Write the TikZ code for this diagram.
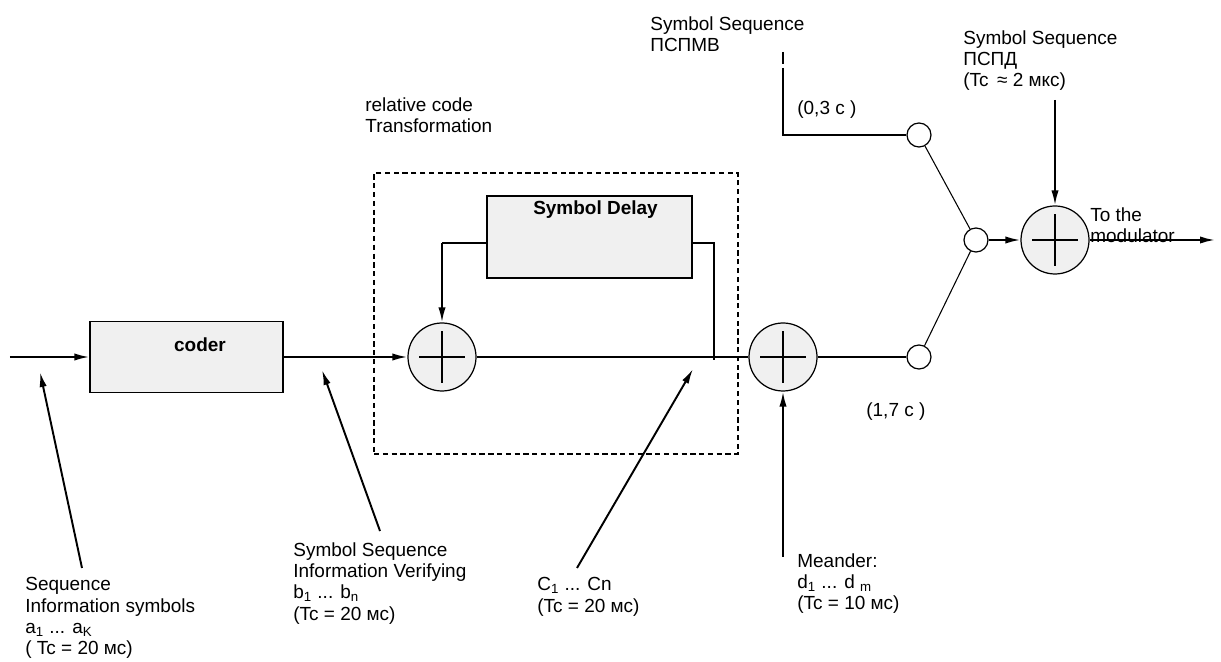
\documentclass[tikz,border=0pt]{standalone}
\usepackage{fontspec}
\setmainfont{Liberation Sans}
\usepackage{tikz}
\usetikzlibrary{arrows.meta,positioning,calc}

\begin{document}
\begin{tikzpicture}[
    block/.style={draw, fill=black!6, line width=0.7pt, inner sep=0pt},
    adder/.style={draw, circle, fill=black!6, minimum size=1.36cm, inner sep=0pt, line width=0.7pt,
        path picture={\draw[line width=0.6pt]
            ([xshift=-0.46cm]path picture bounding box.center) -- ([xshift=0.46cm]path picture bounding box.center)
            ([yshift=-0.52cm]path picture bounding box.center) -- ([yshift=0.52cm]path picture bounding box.center);}},
    contact/.style={draw, circle, fill=white, minimum size=0.48cm, inner sep=0pt, line width=0.7pt},
    note/.style={align=left, anchor=north west, inner sep=0pt},
    arrow/.style={-{Latex[length=3mm, width=1.45mm]}, line width=1.1pt},
    wire/.style={line width=0.6pt},
    every node/.style={font=\fontsize{10.8}{12.2}\selectfont}
]
\useasboundingbox (0,0) rectangle (24.42,13.22);

% Relative code transformation
\node[draw, dash pattern=on 3pt off 2pt, line width=0.9pt, minimum width=7.28cm, minimum height=5.62cm] (relbox) at (11.12, 6.95) {};
\node[note] (reltxt) at (7.30, 11.28) {relative code\\Transformation};

% Blocks
\node[block, minimum width=3.86cm, minimum height=1.42cm,
      label={[font=\fontsize{10.8}{12}\selectfont\bfseries, xshift=0.27cm, yshift=0.25cm]center:coder}] (coder) at (3.73, 6.08) {};
\node[block, minimum width=4.1cm, minimum height=1.64cm,
      label={[font=\fontsize{10.8}{12}\selectfont\bfseries, xshift=0.12cm, yshift=0.54cm]center:Symbol Delay}] (delay) at (11.79, 8.48) {};

% Adders and contacts
\node[adder] (ad1) at (8.84, 6.08) {};
\node[adder] (ad2) at (15.66, 6.08) {};
\node[adder] (ad3) at (21.10, 8.42) {};
\node[contact] (swlow) at (18.38, 6.08) {};
\node[contact] (swup) at (18.38, 10.52) {};
\node[contact] (swmid) at (19.52, 8.42) {};

% Free ends
\coordinate (in) at (0.20, 6.08);
\coordinate (out) at (24.30, 8.42);
\coordinate (fbk) at (8.84, 8.36);
\coordinate (tap) at (14.28, 6.02);
\coordinate (pspd) at (21.10, 11.22);
\coordinate (meander) at (15.66, 2.08);
\coordinate (pspmv0) at (15.66, 12.18);
\coordinate (pspmv1) at (15.66, 11.94);
\coordinate (pspmv2) at (15.66, 11.86);

% Signal path
\draw[arrow] (in) -- (coder);
\draw[arrow] (coder) -- (ad1);
\draw[wire] ([yshift=-0.12cm]delay.west) -- (fbk);
\draw[arrow] (fbk) -- (ad1);
\draw[wire] ([yshift=-0.12cm]delay.east) -| (tap);
\draw[wire] (ad1) -- (ad2);
\draw[wire] (ad2) -- (swlow);
\draw[wire] (pspmv0) -- (pspmv1);
\draw[wire] (pspmv2) |- (swup);
\draw[wire] (swup) -- (swmid);
\draw[wire] (swlow) -- (swmid);
\draw[arrow] (swmid) -- (ad3);
\draw[arrow] (pspd) -- (ad3);
\draw[arrow] (ad3) -- (out);
\draw[arrow] (meander) -- (ad2);

% Pointers to the lines
\coordinate (pa0) at (1.64, 1.86);   \coordinate (pa1) at (0.80, 5.78);
\coordinate (pb0) at (7.60, 2.60);   \coordinate (pb1) at (6.44, 5.82);
\coordinate (pc0) at (11.54, 1.86);  \coordinate (pc1) at (13.86, 5.84);
\draw[arrow] (pa0) -- (pa1);
\draw[arrow] (pb0) -- (pb1);
\draw[arrow] (pc0) -- (pc1);

% Labels
\node[note] (atxt) at (0.50, 1.68) {Sequence\\Information symbols\\a\textsubscript{1} ... a\textsubscript{K}\\( Tc = 20 мс)};
\node[note] (btxt) at (5.86, 2.38) {Symbol Sequence\\Information Verifying\\b\textsubscript{1} ... b\textsubscript{n}\\(Tc = 20 мс)};
\node[note] (ctxt) at (10.74, 1.68) {C\textsubscript{1} ... Cn\\(Tc = 20 мс)};
\node[note] (dtxt) at (15.94, 2.16) {Meander:\\d\textsubscript{1} ... d \textsubscript{m}\\(Tc = 10 мс)};
\node[note] (pspmvtxt) at (13.00, 12.90) {Symbol Sequence\\ПСПМВ};
\node[note] (pspdtxt) at (19.26, 12.62) {Symbol Sequence\\ПСПД\\(Tc \,≈ 2 мкс)};
\node[note] (t03) at (15.94, 11.22) {(0,3 с )};
\node[note] (t17) at (17.32, 5.18) {(1,7 с )};
\node[note] (modtxt) at (21.80, 9.08) {To the\\modulator};

\end{tikzpicture}
\end{document}
